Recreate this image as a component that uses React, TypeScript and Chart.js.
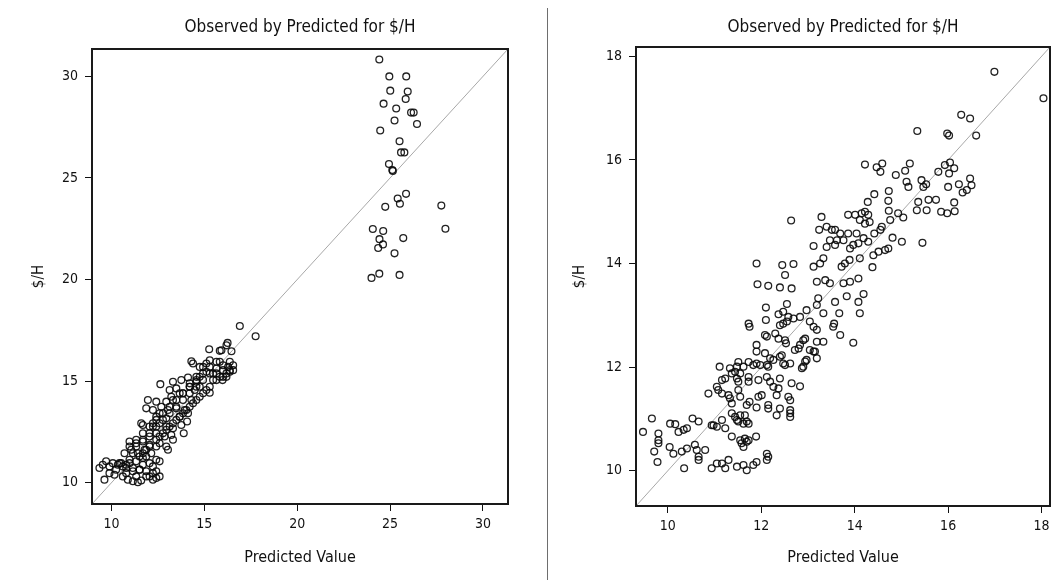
import React, { useEffect, useRef } from "react";
import { Chart, registerables } from "chart.js";

Chart.register(...registerables);

const FONT = "'Liberation Sans Narrow', 'Arial Narrow', 'DejaVu Sans Condensed', 'Liberation Sans', sans-serif";

const chartTitle = "Observed by Predicted for $/H";
const xAxisTitle = "Predicted Value";
const yAxisTitle = "$/H";

const leftTicks = [10, 15, 20, 25, 30];
const leftRange = [8.95, 31.35];
const rightTicks = [10, 12, 14, 16, 18];
const rightRange = [9.32, 18.18];

// Left chart: [predicted, observed]
const leftLowPoints: number[][] = [
  [16.91, 17.71], [17.76, 17.21], [15.26, 16.57], [15.83, 16.49], [15.92, 16.52], [16.25, 16.88],
  [16.19, 16.76], [16.46, 16.47], [14.30, 15.98], [14.39, 15.87], [15.29, 16.03], [15.83, 15.95],
  [16.28, 15.70], [16.37, 15.46], [16.19, 15.21], [15.98, 15.05], [14.93, 15.70], [15.11, 15.46],
  [15.47, 15.38], [14.75, 15.21], [15.29, 14.43], [12.63, 14.85], [13.31, 14.97], [13.76, 15.05],
  [14.12, 15.18], [14.57, 14.97], [14.75, 14.72], [14.48, 14.56], [14.21, 14.72], [13.13, 14.56],
  [13.49, 14.64], [13.85, 14.40], [14.30, 14.07], [11.96, 14.07], [12.41, 13.99], [12.95, 13.99],
  [13.22, 14.23], [11.87, 13.66], [12.23, 13.58], [12.68, 13.74], [13.04, 13.58], [13.49, 13.66],
  [13.94, 13.58], [12.41, 13.25], [12.95, 13.17], [13.67, 13.25], [14.12, 13.42], [14.07, 13.01],
  [11.69, 12.84], [11.60, 12.92], [12.23, 12.76], [12.59, 12.92], [12.95, 12.76], [13.31, 12.68],
  [13.76, 12.84], [13.89, 12.43], [12.05, 12.27], [12.41, 12.43], [12.86, 12.27], [13.31, 12.11],
  [13.22, 12.35], [10.97, 12.03], [11.33, 11.94], [11.69, 12.03], [12.05, 11.86], [12.59, 11.94],
  [12.95, 11.78], [13.04, 11.62], [10.70, 11.45], [11.06, 11.62], [11.42, 11.45], [11.78, 11.62],
  [12.14, 11.45], [12.41, 11.13], [12.59, 11.05], [10.97, 10.96], [11.33, 11.05], [11.69, 10.88],
  [12.05, 10.96], [9.35, 10.72], [9.53, 10.88], [9.71, 11.05], [10.07, 10.96], [10.34, 10.88],
  [10.52, 10.96], [9.89, 10.47], [9.62, 10.15], [10.16, 10.39], [10.61, 10.31], [10.88, 10.15],
  [11.15, 10.07], [11.42, 10.02], [11.60, 10.11], [11.87, 10.56], [12.05, 10.31], [12.23, 10.15],
  [12.41, 10.23], [10.79, 10.72], [11.15, 10.56], [11.51, 10.64], [11.69, 11.21], [11.87, 11.29],
  [11.33, 11.78], [11.69, 12.11], [12.05, 12.43], [12.41, 12.76], [12.77, 13.09], [13.13, 13.42],
  [13.49, 13.74], [13.85, 14.07], [14.21, 14.40], [14.57, 14.72], [14.93, 15.05], [15.29, 15.38],
  [15.65, 15.62], [16.01, 15.78], [16.37, 15.95], [11.15, 11.45], [11.51, 11.29], [11.87, 11.62],
  [10.97, 11.13], [10.61, 10.80], [10.25, 10.64], [9.89, 10.80], [11.51, 10.64], [11.87, 10.31],
  [12.23, 10.47], [12.41, 11.78], [12.59, 12.27], [12.95, 12.60], [12.23, 12.92], [12.59, 13.42],
  [13.31, 12.92], [13.67, 13.25], [14.03, 13.58], [13.67, 14.40], [13.31, 14.07], [14.39, 13.91],
  [14.75, 14.23], [14.21, 14.89], [14.57, 15.21], [15.11, 14.56], [15.47, 15.05], [15.83, 15.21],
  [16.19, 15.38], [16.55, 15.54], [15.65, 15.95], [14.75, 15.70], [15.11, 15.87],
  [10.97, 11.78], [11.33, 12.11], [11.69, 12.43], [12.05, 12.76], [12.41, 13.09], [12.77, 13.42],
  [13.13, 13.74], [13.49, 14.07], [13.85, 14.40], [14.21, 14.72], [14.57, 15.05], [14.93, 15.38],
  [15.29, 15.70], [15.65, 15.38], [16.01, 15.54], [11.69, 11.45], [12.05, 11.78], [12.41, 12.11],
  [12.77, 12.43], [13.13, 12.76], [13.49, 13.09], [13.85, 13.42], [14.21, 13.74], [14.57, 14.07],
  [14.93, 14.40], [15.29, 14.72], [15.65, 15.05], [16.01, 15.21], [16.37, 15.54], [16.55, 15.78],
  [10.43, 10.96], [10.79, 10.88], [11.15, 10.72], [12.23, 10.80], [12.41, 10.56], [12.59, 10.31],
  [11.33, 10.31], [10.79, 10.47]
];

const leftHighPoints: number[][] = [
  [24.42, 30.83], [24.96, 30.00], [25.87, 30.00], [25.01, 29.30], [25.95, 29.26], [25.84, 28.89],
  [24.65, 28.66], [25.33, 28.42], [26.13, 28.22], [26.27, 28.22], [25.24, 27.83], [26.45, 27.66],
  [24.47, 27.34], [25.51, 26.81], [25.59, 26.26], [25.77, 26.26], [24.94, 25.69], [25.12, 25.39],
  [25.15, 25.35], [25.86, 24.22], [25.41, 23.99], [25.53, 23.73], [24.74, 23.58], [27.76, 23.64],
  [27.98, 22.50], [24.07, 22.49], [24.63, 22.39], [25.71, 22.04], [24.43, 21.99], [24.62, 21.73],
  [24.36, 21.55], [25.24, 21.29], [24.42, 20.29], [24.00, 20.08], [25.51, 20.23]
];

// Right chart: [predicted, observed]
const rightPoints: number[][] = [
  [16.99, 17.70], [18.04, 17.19], [16.28, 16.87], [16.47, 16.80], [15.34, 16.56], [15.98, 16.51],
  [16.02, 16.47], [16.60, 16.47], [14.22, 15.91], [14.47, 15.86], [14.59, 15.93], [14.55, 15.77],
  [14.88, 15.71], [15.08, 15.79], [15.18, 15.93], [14.42, 15.34], [14.73, 15.40], [15.11, 15.58],
  [15.15, 15.48], [15.43, 15.61], [15.47, 15.48], [15.53, 15.53], [15.79, 15.77], [15.93, 15.90],
  [16.04, 15.95], [16.13, 15.84], [16.02, 15.74], [16.00, 15.48], [16.23, 15.53], [16.47, 15.64],
  [16.50, 15.51], [16.40, 15.42], [16.31, 15.37], [16.13, 15.18], [16.14, 15.01], [15.98, 14.97],
  [15.85, 15.00], [15.74, 15.23], [15.58, 15.23], [15.54, 15.03], [15.33, 15.03], [15.36, 15.19],
  [14.72, 15.21], [14.73, 15.02], [14.28, 15.19], [14.93, 14.97], [15.04, 14.89], [14.76, 14.84],
  [14.58, 14.71], [14.55, 14.65], [14.42, 14.58], [14.15, 14.97], [14.22, 15.00], [14.29, 14.94],
  [14.11, 14.84], [14.22, 14.77], [14.32, 14.80], [13.86, 14.94], [14.01, 14.94], [13.29, 14.90],
  [12.64, 14.83], [13.24, 14.65], [13.40, 14.71], [13.51, 14.65], [13.58, 14.65], [13.69, 14.58],
  [13.86, 14.58], [14.04, 14.58], [14.19, 14.49], [13.47, 14.45], [13.62, 14.45], [13.76, 14.45],
  [13.12, 14.34], [13.40, 14.32], [13.58, 14.36], [13.90, 14.29], [13.97, 14.36], [14.08, 14.39],
  [14.29, 14.42], [14.81, 14.50], [15.01, 14.42], [14.72, 14.29], [14.65, 14.26], [14.51, 14.23],
  [14.40, 14.16], [15.45, 14.40], [14.11, 14.10], [14.38, 13.93], [11.90, 14.00], [12.45, 13.97],
  [12.51, 13.78], [12.69, 13.99], [13.12, 13.94], [13.26, 14.00], [13.33, 14.10], [13.72, 13.94],
  [13.79, 14.00], [13.89, 14.07], [13.19, 13.65], [13.37, 13.68], [13.47, 13.62], [13.76, 13.62],
  [13.90, 13.65], [14.08, 13.71], [11.92, 13.60], [12.15, 13.57], [12.40, 13.54], [12.65, 13.52],
  [12.55, 13.22], [12.10, 13.15], [12.97, 13.10], [13.19, 13.20], [13.22, 13.33], [13.33, 13.04],
  [12.37, 13.02], [12.47, 13.07], [12.58, 12.97], [12.69, 12.94], [12.83, 12.97], [13.83, 13.37],
  [14.08, 13.26], [14.11, 13.04], [14.19, 13.41], [13.58, 13.26], [13.67, 13.04], [13.56, 12.84],
  [13.54, 12.78], [12.10, 12.91], [11.73, 12.84], [11.75, 12.78], [12.40, 12.81], [12.47, 12.84],
  [12.55, 12.88], [13.04, 12.88], [13.12, 12.78], [13.19, 12.72], [13.69, 12.62], [12.08, 12.62],
  [12.12, 12.59], [12.30, 12.65], [12.37, 12.55], [12.51, 12.52], [12.53, 12.46], [12.90, 12.52],
  [12.94, 12.55], [13.19, 12.49], [13.33, 12.49], [13.97, 12.47], [11.90, 12.43], [12.72, 12.33],
  [12.83, 12.43], [12.80, 12.36], [13.04, 12.33], [13.12, 12.30], [11.90, 12.30], [12.08, 12.27],
  [13.19, 12.17], [13.15, 12.30], [12.40, 12.20], [12.44, 12.23], [12.26, 12.14], [12.19, 12.17],
  [12.97, 12.14], [12.94, 12.11], [12.90, 12.01], [12.87, 11.98], [12.62, 12.07], [12.47, 12.07],
  [12.51, 12.04], [12.12, 12.04], [12.15, 12.01], [11.98, 12.04], [11.90, 12.07], [11.83, 12.04],
  [11.73, 12.10], [11.62, 12.01], [11.51, 12.10], [11.48, 12.01], [11.55, 11.88], [11.44, 11.91],
  [11.33, 11.98], [11.37, 11.88], [11.11, 12.01], [11.23, 11.78], [11.16, 11.75], [11.48, 11.78],
  [11.51, 11.72], [11.73, 11.81], [11.73, 11.72], [11.94, 11.75], [12.12, 11.81], [12.19, 11.72],
  [12.26, 11.62], [12.37, 11.59], [12.40, 11.78], [12.65, 11.69], [12.83, 11.63], [10.87, 11.49],
  [11.05, 11.62], [11.08, 11.56], [11.16, 11.49], [11.30, 11.46], [11.33, 11.40], [11.37, 11.30],
  [11.51, 11.56], [11.55, 11.43], [11.75, 11.33], [11.69, 11.27], [11.94, 11.43], [12.01, 11.46],
  [12.33, 11.46], [12.58, 11.43], [12.62, 11.36], [12.15, 11.27], [12.15, 11.20], [11.90, 11.22],
  [12.40, 11.20], [12.33, 11.07], [12.62, 11.17], [12.62, 11.11], [12.62, 11.04], [11.37, 11.11],
  [11.44, 11.04], [11.55, 11.07], [11.65, 11.07], [11.69, 10.95], [11.73, 10.91], [11.62, 10.91],
  [11.48, 10.98], [11.51, 10.95], [11.16, 10.98], [10.94, 10.88], [10.98, 10.88], [11.05, 10.85],
  [11.23, 10.82], [11.37, 10.66], [11.55, 10.59], [11.58, 10.53], [11.62, 10.46], [11.69, 10.56],
  [11.73, 10.59], [11.65, 10.62], [11.89, 10.66], [10.53, 11.01], [10.66, 10.95], [9.66, 11.01],
  [10.05, 10.91], [10.16, 10.90], [10.23, 10.75], [10.34, 10.79], [10.41, 10.82], [9.47, 10.75],
  [9.80, 10.72], [9.80, 10.59], [9.80, 10.53], [10.04, 10.46], [10.58, 10.50], [10.62, 10.40],
  [10.80, 10.40], [10.66, 10.27], [10.66, 10.21], [10.41, 10.43], [10.30, 10.37], [10.12, 10.33],
  [9.71, 10.37], [9.78, 10.17], [10.35, 10.05], [10.94, 10.05], [11.05, 10.14], [11.16, 10.14],
  [11.23, 10.05], [11.30, 10.21], [11.48, 10.08], [11.62, 10.11], [11.69, 10.01], [11.83, 10.11],
  [11.90, 10.17], [12.12, 10.33], [12.15, 10.27], [12.12, 10.21]
];

type PanelCfg = {
  points: number[][];
  ticks: number[];
  range: number[];
  width: number;
  yAxisWidth: number;
  rightPad: number;
  titleBottom: number;
  xAxisHeight: number;
  yTitlePad: number;
};

const boxPlugin = {
  id: "plotBox",
  afterDatasetsDraw(chart: any) {
    const { ctx, chartArea: a } = chart;
    ctx.save();
    ctx.strokeStyle = "#1a1a1a";
    ctx.lineWidth = 2;
    ctx.strokeRect(a.left, a.top, a.right - a.left, a.bottom - a.top);
    ctx.restore();
  },
};

function Panel({ cfg }: { cfg: PanelCfg }) {
  const ref = useRef<HTMLCanvasElement | null>(null);
  useEffect(() => {
    if (!ref.current) return;
    const [lo, hi] = cfg.range;
    const tickFont = { family: FONT, size: 14 };
    const axisCommon = (isX: boolean) => ({
      type: "linear" as const,
      min: lo,
      max: hi,
      afterBuildTicks: (s: any) => {
        s.ticks = cfg.ticks.map((v) => ({ value: v }));
      },
      afterFit: (s: any) => {
        if (isX) s.height = cfg.xAxisHeight;
        else s.width = cfg.yAxisWidth;
      },
      border: { display: false },
      grid: {
        display: true,
        drawOnChartArea: false,
        drawTicks: true,
        tickLength: 7,
        color: "#111",
        lineWidth: 1,
      },
      ticks: {
        font: tickFont,
        color: "#111",
        padding: isX ? 5 : 7,
        maxRotation: 0,
        autoSkip: false,
        callback: (v: any) => String(v),
      },
      title: {
        display: true,
        text: isX ? xAxisTitle : yAxisTitle,
        color: "#111",
        font: { family: FONT, size: isX ? 16 : 15 },
        padding: isX ? { top: 0, bottom: 13 } : { top: cfg.yTitlePad, bottom: 0 },
      },
    });
    const chart = new Chart(ref.current, {
      type: "scatter",
      data: {
        datasets: [
          {
            data: cfg.points.map(([x, y]) => ({ x, y })),
            pointRadius: 3.4,
            pointBorderWidth: 1.3,
            borderColor: "rgba(10,10,10,0.9)",
            backgroundColor: "rgba(0,0,0,0)",
            pointHoverRadius: 3.4,
            order: 1,
          },
          {
            data: [
              { x: lo, y: lo },
              { x: hi, y: hi },
            ],
            showLine: true,
            pointRadius: 0,
            borderColor: "#a8a8a8",
            borderWidth: 1,
            order: 2,
          },
        ],
      },
      options: {
        responsive: false,
        animation: false,
        layout: { padding: { left: 0, right: cfg.rightPad, top: 0, bottom: 0 } },
        plugins: {
          legend: { display: false },
          tooltip: { enabled: false },
          title: {
            display: true,
            text: chartTitle,
            fullSize: false,
            color: "#111",
            font: { family: FONT, size: 17, weight: "normal" as any, lineHeight: 1.2 },
            padding: { top: 17, bottom: cfg.titleBottom },
          },
        },
        scales: {
          x: axisCommon(true) as any,
          y: axisCommon(false) as any,
        },
      },
      plugins: [boxPlugin],
    });
    return () => chart.destroy();
  }, [cfg]);
  return <canvas ref={ref} width={cfg.width} height={580} style={{ width: cfg.width, height: 580, display: "block" }} />;
}

const leftCfg: PanelCfg = {
  points: [...leftLowPoints, ...leftHighPoints],
  ticks: leftTicks,
  range: leftRange,
  width: 540,
  yAxisWidth: 92,
  rightPad: 32,
  titleBottom: 11.6,
  xAxisHeight: 76,
  yTitlePad: 30,
};

const rightCfg: PanelCfg = {
  points: rightPoints,
  ticks: rightTicks,
  range: rightRange,
  width: 512,
  yAxisWidth: 84,
  rightPad: 14,
  titleBottom: 9.6,
  xAxisHeight: 74,
  yTitlePad: 19,
};

export default function App() {
  return (
    <div style={{ position: "absolute", left: 0, top: 0, width: 1064, height: 580, background: "#fff", overflow: "hidden" }}>
      <div style={{ position: "absolute", left: 0, top: 0 }}>
        <Panel cfg={leftCfg} />
      </div>
      <div style={{ position: "absolute", left: 547, top: 8, width: 1, height: 572, background: "#6e6e6e" }} />
      <div style={{ position: "absolute", left: 552, top: 0 }}>
        <Panel cfg={rightCfg} />
      </div>
    </div>
  );
}
